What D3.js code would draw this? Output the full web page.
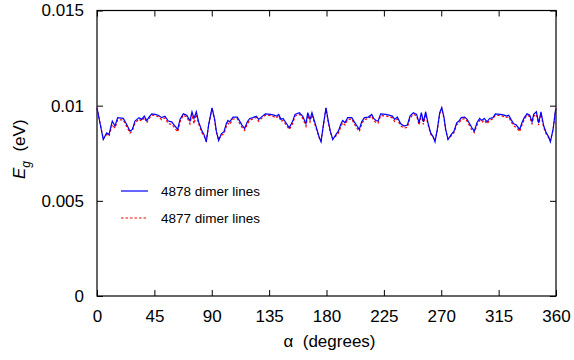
<!DOCTYPE html>
<html>
<head>
<meta charset="utf-8">
<script src="https://cdn.jsdelivr.net/npm/d3@7"></script>
<style>
  html, body { margin: 0; padding: 0; background: #fff; }
  svg { display: block; font-family: "Liberation Sans", Arial, sans-serif; }
</style>
</head>
<body>
<svg id="chart" width="574" height="360"></svg>
<script>
// Rotation angle of the sample (degrees)
const angles = [
  0, 4.9, 7.6, 9.4, 12, 14.1, 16.2, 20.6, 23.3, 25.9, 27.7, 29.8, 32.9, 35, 37.1, 39, 40.8, 42.9,
  45.5, 48.1, 50.7, 53.3, 55.9, 58.6, 61.2, 63.3, 65.1, 67.7, 70.4, 72.9, 74.5, 76.1, 77.9, 79.7,
  82.4, 83.9, 85.7, 87.6, 90.2, 92.3, 93.6, 95.4, 97.5, 99.6, 101.4, 102.7, 104, 106.7, 110, 111.9,
  113.7, 115.8, 117.9, 119.8, 122.4, 124.9, 126.8, 128.9, 132, 136.2, 138.8, 140.6, 142.5, 144.3,
  146, 148.2, 150.8, 153.5, 155.3, 158.7, 161.3, 163.9, 165.3, 167.1, 168.6, 170.4, 172.5, 174.4,
  175.7, 177.8, 179.6, 181.4, 183, 184.9, 187.5, 189.3, 191.4, 192.7, 194.5, 196.6, 199.8, 201.8,
  203.9, 205.7, 207.6, 209.7, 212.8, 215.5, 217, 218.8, 220.4, 222.5, 226.4, 229, 231.6, 233.5,
  235.5, 238.2, 240.8, 243.4, 245.5, 248.1, 250.7, 252.6, 254.4, 256, 257.8, 259.6, 261.7, 263.8,
  265.1, 266.9, 268.8, 270.4, 272.2, 273.5, 275.3, 277.9, 280, 282.1, 283.9, 285.7, 288.4, 290.3,
  292.3, 294.1, 295.9, 298, 300.1, 301.9, 303.7, 305.9, 307.9, 310.6, 312.4, 316.3, 319.5, 321,
  322.9, 324.7, 326.8, 328.9, 331.5, 333.3, 335.1, 337.3, 339.4, 341.2, 342.5, 344.6, 346.4, 348.2,
  350.4, 352.4, 354.3, 355.6, 357.7, 359.5, 360
];

// Gap energy, 4878 dimer lines (eV)
const gap4878 = [
  0.00989, 0.00822, 0.00857, 0.00849, 0.00919, 0.00893, 0.00937, 0.00933, 0.00901, 0.00866, 0.00875, 0.00919, 0.00937, 0.00928, 0.00945, 0.00922, 0.0094, 0.00957,
  0.00954, 0.0095, 0.00937, 0.00945, 0.00919, 0.00915, 0.00893, 0.00875, 0.00928, 0.00957, 0.0095, 0.0092, 0.00968, 0.00933, 0.00968, 0.00915,
  0.00866, 0.00849, 0.0081, 0.00901, 0.00989, 0.00928, 0.00866, 0.00817, 0.00852, 0.00863, 0.00905, 0.00922, 0.00915, 0.0094, 0.0094, 0.00919,
  0.00898, 0.0088, 0.00915, 0.00933, 0.00937, 0.00945, 0.00928, 0.0094, 0.00957, 0.00954, 0.0095, 0.00945, 0.00954, 0.00928,
  0.00933, 0.0091, 0.00884, 0.00919, 0.00954, 0.00963, 0.00945, 0.00905, 0.00963, 0.00928, 0.00963, 0.00922, 0.00875, 0.00831,
  0.0081, 0.0091, 0.00989, 0.00919, 0.00866, 0.00822, 0.00849, 0.00866, 0.00905, 0.00922, 0.0091, 0.00937, 0.00937, 0.00915,
  0.00893, 0.00875, 0.00915, 0.00937, 0.0094, 0.00954, 0.00933, 0.00922, 0.00919, 0.00957, 0.00954, 0.0095, 0.00945, 0.00928,
  0.0094, 0.00905, 0.00893, 0.00898, 0.00945, 0.00963, 0.00954, 0.0091, 0.00963, 0.00915, 0.00968, 0.0091, 0.00857, 0.00835,
  0.0081, 0.00875, 0.00963, 0.00989, 0.00937, 0.00875, 0.00822, 0.00849, 0.00866, 0.0091, 0.00919, 0.00937, 0.0094, 0.00928,
  0.00905, 0.00884, 0.00866, 0.0091, 0.00933, 0.00922, 0.00933, 0.00915, 0.00933, 0.00937, 0.00957, 0.00954, 0.0095, 0.00945,
  0.0095, 0.00928, 0.00905, 0.00898, 0.00875, 0.0091, 0.00937, 0.00957, 0.0095, 0.00915, 0.00954, 0.00968, 0.0091, 0.00968,
  0.00893, 0.00857, 0.00835, 0.0081, 0.00875, 0.00971, 0.00985
];

// Gap energy, 4877 dimer lines (eV)
const gap4877 = [
  0.00989, 0.00826, 0.00850, 0.00840, 0.00900, 0.00882, 0.00926, 0.00925, 0.00890, 0.00856, 0.00868, 0.00908, 0.00930, 0.00918, 0.00938, 0.00910, 0.00932, 0.00950,
  0.00948, 0.00942, 0.00926, 0.00936, 0.00905, 0.00903, 0.00880, 0.00862, 0.00915, 0.00950, 0.00942, 0.00905, 0.00955, 0.00905, 0.00955, 0.00905,
  0.00856, 0.00842, 0.00815, 0.00898, 0.00987, 0.00920, 0.00860, 0.00820, 0.00845, 0.00852, 0.00890, 0.00908, 0.00900, 0.00930, 0.00932, 0.00906,
  0.00886, 0.00870, 0.00902, 0.00924, 0.00930, 0.00938, 0.00918, 0.00932, 0.00950, 0.00948, 0.00942, 0.00935, 0.00946, 0.00918,
  0.00922, 0.00900, 0.00875, 0.00906, 0.00945, 0.00955, 0.00935, 0.00892, 0.00950, 0.00915, 0.00952, 0.00912, 0.00868, 0.00830,
  0.00815, 0.00905, 0.00987, 0.00912, 0.00860, 0.00826, 0.00842, 0.00856, 0.00892, 0.00910, 0.00898, 0.00928, 0.00930, 0.00905,
  0.00882, 0.00864, 0.00902, 0.00928, 0.00932, 0.00946, 0.00922, 0.00912, 0.00908, 0.00948, 0.00946, 0.00942, 0.00936, 0.00916,
  0.00930, 0.00894, 0.00882, 0.00886, 0.00934, 0.00955, 0.00946, 0.00898, 0.00952, 0.00902, 0.00955, 0.00900, 0.00850, 0.00832,
  0.00815, 0.00870, 0.00958, 0.00987, 0.00930, 0.00868, 0.00826, 0.00842, 0.00858, 0.00900, 0.00908, 0.00928, 0.00932, 0.00918,
  0.00893, 0.00872, 0.00858, 0.00898, 0.00922, 0.00912, 0.00924, 0.00904, 0.00924, 0.00930, 0.00950, 0.00948, 0.00942, 0.00938,
  0.00942, 0.00916, 0.00894, 0.00886, 0.00864, 0.00898, 0.00928, 0.00950, 0.00942, 0.00902, 0.00944, 0.00955, 0.00898, 0.00955,
  0.00884, 0.00850, 0.00830, 0.00815, 0.00872, 0.00968, 0.00984
];

const xTicks = [0, 45, 90, 135, 180, 225, 270, 315, 360];
const yTicks = [0, 0.005, 0.01, 0.015];
const yTickLabels = ["0", "0.005", "0.01", "0.015"];
const seriesNames = ["4878 dimer lines", "4877 dimer lines"];

const svg = d3.select("#chart");
const margin = { left: 97, right: 18, top: 10.5, bottom: 64 };
const W = 574, H = 360;
const x = d3.scaleLinear().domain([0, 360]).range([margin.left, W - margin.right]);
const y = d3.scaleLinear().domain([0, 0.015]).range([H - margin.bottom, margin.top]);

const tickLen = 6;
const fontSize = 17;

// Axes: ticks point inward, mirrored on top and right
const gx = svg.append("g").attr("transform", `translate(0,${y(0)})`)
  .call(d3.axisBottom(x).tickValues(xTicks).tickSizeInner(-tickLen).tickSizeOuter(0).tickPadding(14));
const gxTop = svg.append("g").attr("transform", `translate(0,${y(0.015)})`)
  .call(d3.axisTop(x).tickValues(xTicks).tickSizeInner(-tickLen).tickSizeOuter(0).tickFormat(""));
const gy = svg.append("g").attr("transform", `translate(${x(0)},0)`)
  .call(d3.axisLeft(y).tickValues(yTicks).tickSizeInner(-tickLen).tickSizeOuter(0).tickPadding(13)
    .tickFormat((d, i) => yTickLabels[i]));
const gyRight = svg.append("g").attr("transform", `translate(${x(360)},0)`)
  .call(d3.axisRight(y).tickValues(yTicks).tickSizeInner(-tickLen).tickSizeOuter(0).tickFormat(""));

[gx, gxTop, gy, gyRight].forEach(g => {
  g.select(".domain").remove();
  g.selectAll(".tick line").attr("stroke", "#000").attr("stroke-width", 1);
  g.selectAll(".tick text").attr("fill", "#000").attr("font-size", fontSize)
    .attr("font-family", "Liberation Sans, Arial, sans-serif");
});

// Frame
svg.append("rect")
  .attr("x", x(0)).attr("y", y(0.015))
  .attr("width", x(360) - x(0)).attr("height", y(0) - y(0.015))
  .attr("fill", "none").attr("stroke", "#000").attr("stroke-width", 1.2);

// Curves
const line = d3.line().x(d => x(d[0])).y(d => y(d[1]));
const blueData = angles.map((a, i) => [a, gap4878[i]]);
const redData = angles.map((a, i) => [a, gap4877[i]]);

svg.append("path").datum(redData).attr("d", line)
  .attr("fill", "none").attr("stroke", "#ff0000").attr("stroke-width", 1.2)
  .attr("stroke-dasharray", "2.5,2");
svg.append("path").datum(blueData).attr("d", line)
  .attr("fill", "none").attr("stroke", "#0000ff").attr("stroke-width", 1.2);

// Legend
const legend = svg.append("g");
const legendRows = [
  { name: seriesNames[0], color: "#0000ff", dash: null, yPos: 191 },
  { name: seriesNames[1], color: "#ff0000", dash: "2.5,2", yPos: 218 }
];
legendRows.forEach(r => {
  legend.append("line").attr("x1", 121).attr("x2", 148).attr("y1", r.yPos).attr("y2", r.yPos)
    .attr("stroke", r.color).attr("stroke-width", 1.2).attr("stroke-dasharray", r.dash);
  legend.append("text").attr("x", 161).attr("y", r.yPos).attr("dy", "0.35em")
    .attr("font-size", 13.5).attr("fill", "#000").text(r.name);
});

// Axis titles
svg.append("text").attr("x", (x(0) + x(360)) / 2 + 3).attr("y", 347)
  .attr("text-anchor", "middle").attr("font-size", fontSize)
  .text("\u03b1\u00a0\u00a0(degrees)");

const yTitle = svg.append("text")
  .attr("transform", `translate(25,${(y(0) + y(0.015)) / 2 - 4}) rotate(-90)`)
  .attr("text-anchor", "middle").attr("font-size", fontSize);
yTitle.append("tspan").attr("font-style", "italic").text("E");
yTitle.append("tspan").attr("font-style", "italic").attr("font-size", 12).attr("dy", 5).text("g");
yTitle.append("tspan").attr("dy", -5).text("\u00a0\u00a0(eV)");
</script>
</body>
</html>
